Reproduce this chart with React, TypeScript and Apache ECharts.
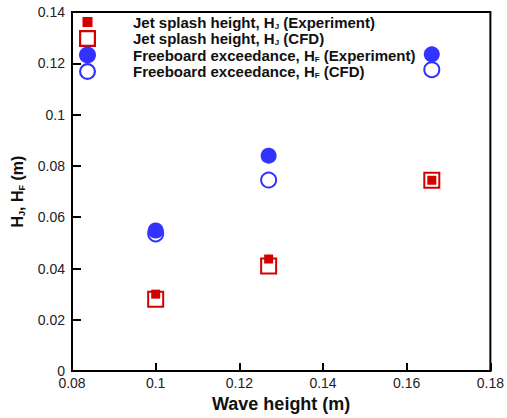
import React, { useEffect, useRef } from "react";
import * as echarts from "echarts";

const waveHeights = [0.1, 0.127, 0.166];
const hjExperiment = [0.030, 0.0437, 0.0744];
const hjCFD = [0.028, 0.041, 0.0744];
const hfExperiment = [0.0548, 0.084, 0.1235];
const hfCFD = [0.0535, 0.0745, 0.1175];

const xTicks = { min: 0.08, max: 0.18, interval: 0.02 };
const yTicks = { min: 0, max: 0.14, interval: 0.02 };

const RED = "#d40000";
const BLUE = "#3333ff";

const names = {
  hjExp: "{b|Jet splash height, H}{s|J}{b| (Experiment)}",
  hjCfd: "{b|Jet splash height, H}{s|J}{b| (CFD)}",
  hfExp: "{b|Freeboard exceedance, H}{s|F}{b| (Experiment)}",
  hfCfd: "{b|Freeboard exceedance, H}{s|F}{b| (CFD)}",
};

const ICON_SMALL_SQUARE = "path://M0 0L0 0.01L0.01 0Z M17 17L17 16.99L16.99 17Z M3.5 3.5H13.5V13.5H3.5Z";
const ICON_HOLLOW_SQUARE = "path://M0 0H17V17H0Z M2.2 2.2V14.8H14.8V2.2Z";
const ICON_HOLLOW_CIRCLE = "path://M8.5 0A8.5 8.5 0 1 1 8.5 17A8.5 8.5 0 1 1 8.5 0Z M8.5 2.2A6.3 6.3 0 1 0 8.5 14.8A6.3 6.3 0 1 0 8.5 2.2Z";

const pts = (ys: number[]) => waveHeights.map((x, i) => [x, ys[i]]);
const fmt = (v: number) => String(+v.toFixed(2));

export default function App() {
  const ref = useRef<HTMLDivElement>(null);
  useEffect(() => {
    if (!ref.current) return;
    const chart = echarts.init(ref.current, null, { renderer: "svg" });
    const font = "'Liberation Sans', Arial, sans-serif";
    chart.setOption({
      animation: false,
      textStyle: { fontFamily: font },
      grid: { left: 72, right: 15, top: 12, bottom: 39, show: true, borderColor: "#000", borderWidth: 2 },
      legend: {
        orient: "vertical",
        left: 79,
        top: 13.5,
        padding: 0,
        itemGap: -0.5,
        itemWidth: 17,
        itemHeight: 17,
        selectedMode: false,
        formatter: (n: string) => n,
        textStyle: {
          lineHeight: 16,
          height: 16,
          padding: [0, 0, 0, 32],
          rich: {
            b: { fontSize: 15, fontWeight: "bold", color: "#111", fontFamily: font, lineHeight: 16, verticalAlign: "middle" },
            s: { fontSize: 8, fontWeight: "bold", color: "#111", fontFamily: font, lineHeight: 16, verticalAlign: "bottom" },
          },
        },
        data: [
          { name: names.hjExp, icon: ICON_SMALL_SQUARE, itemStyle: { color: RED, borderWidth: 0 } },
          { name: names.hjCfd, icon: ICON_HOLLOW_SQUARE, itemStyle: { color: RED, borderWidth: 0 } },
          { name: names.hfExp, icon: "circle", itemStyle: { color: BLUE, borderWidth: 0 } },
          { name: names.hfCfd, icon: ICON_HOLLOW_CIRCLE, itemStyle: { color: BLUE, borderWidth: 0 } },
        ],
      },
      xAxis: {
        type: "value",
        min: xTicks.min,
        max: xTicks.max,
        interval: xTicks.interval,
        name: "Wave height (m)",
        nameLocation: "middle",
        nameGap: 18,
        nameTextStyle: { fontSize: 18, fontWeight: "bold", color: "#111", fontFamily: font },
        axisLine: { lineStyle: { color: "#000", width: 2 } },
        axisTick: { inside: true, length: 8, lineStyle: { color: "#000", width: 2 } },
        axisLabel: { fontSize: 14, color: "#222", margin: 5, formatter: fmt, fontFamily: font },
        splitLine: { show: false },
      },
      yAxis: {
        type: "value",
        min: yTicks.min,
        max: yTicks.max,
        interval: yTicks.interval,
        name: "{b|H}{s|J}{b|, H}{s|F}{b| (m)}",
        nameLocation: "middle",
        nameGap: 43,
        nameRotate: 90,
        nameTextStyle: {
          rich: {
            b: { fontSize: 16, fontWeight: "bold", color: "#111", fontFamily: font, lineHeight: 19, verticalAlign: "middle" },
            s: { fontSize: 9, fontWeight: "bold", color: "#111", fontFamily: font, lineHeight: 19, verticalAlign: "bottom" },
          },
        },
        axisLine: { lineStyle: { color: "#000", width: 2 } },
        axisTick: { inside: true, length: 9, lineStyle: { color: "#000", width: 2 } },
        axisLabel: { fontSize: 14, color: "#222", margin: 7, formatter: fmt, fontFamily: font },
        splitLine: { show: false },
      },
      series: [
        {
          name: names.hjCfd, type: "scatter", symbol: "rect", symbolSize: 15,
          itemStyle: { color: "#fff", borderColor: RED, borderWidth: 2, opacity: 1 },
          data: pts(hjCFD),
        },
        {
          name: names.hfCfd, type: "scatter", symbol: "circle", symbolSize: 15,
          itemStyle: { color: "#fff", borderColor: BLUE, borderWidth: 2, opacity: 1 },
          data: pts(hfCFD),
        },
        {
          name: names.hjExp, type: "scatter", symbol: "rect", symbolSize: 9,
          itemStyle: { color: RED, opacity: 1 },
          data: pts(hjExperiment),
        },
        {
          name: names.hfExp, type: "scatter", symbol: "circle", symbolSize: 16,
          itemStyle: { color: BLUE, opacity: 1 },
          data: pts(hfExperiment),
        },
      ],
    });
    return () => chart.dispose();
  }, []);
  return <div ref={ref} style={{ width: 507, height: 418, position: "absolute", left: 0, top: 0 }} />;
}
